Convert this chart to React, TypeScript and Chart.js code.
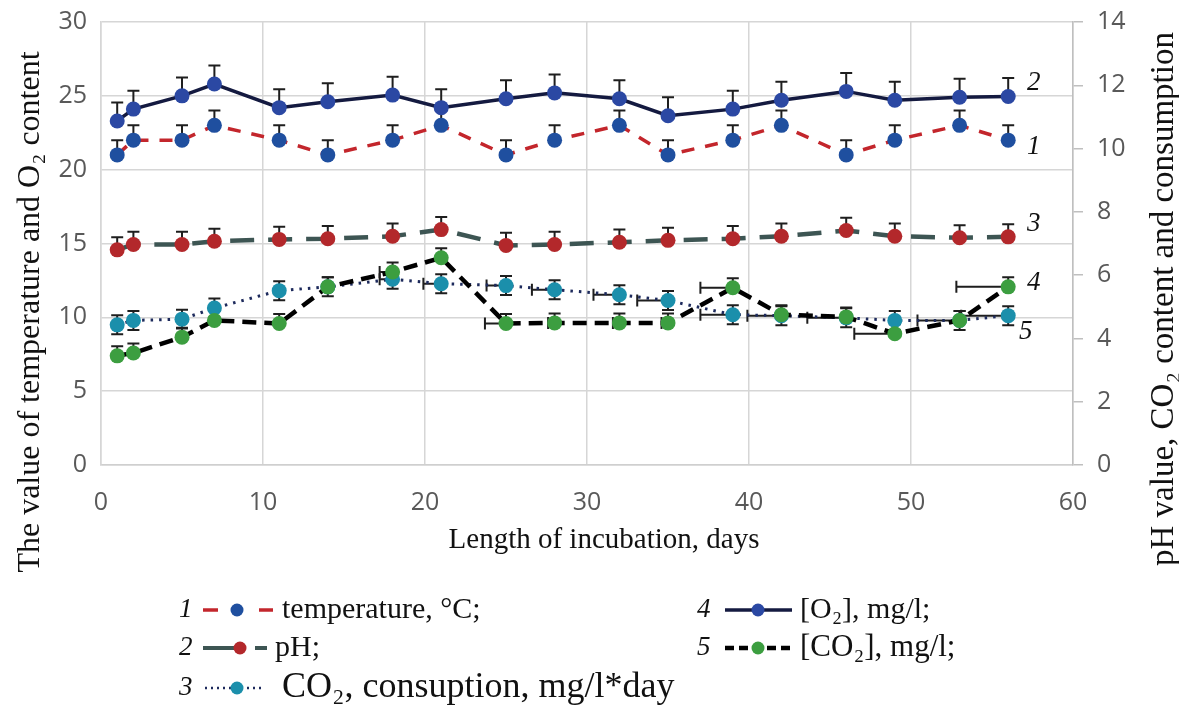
import React, { useEffect, useRef } from "react";
import { Chart, registerables } from "chart.js";
Chart.register(...registerables);

const days = [1, 2, 5, 7, 11, 14, 18, 21, 25, 28, 32, 35, 39, 42, 46, 49, 53, 56];
const temperature = [21, 22, 22, 23, 22, 21, 22, 23, 21, 22, 23, 21, 22, 23, 21, 22, 23, 22];
const oxygen = [23.3, 24.1, 25.0, 25.8, 24.2, 24.6, 25.05, 24.2, 24.8, 25.2, 24.8, 23.65, 24.1, 24.7, 25.3, 24.7, 24.9, 24.95];
const ph = [6.8, 6.97, 6.97, 7.07, 7.13, 7.15, 7.23, 7.44, 6.94, 6.97, 7.04, 7.1, 7.15, 7.23, 7.41, 7.23, 7.18, 7.21];
const co2Consumption = [4.43, 4.57, 4.61, 4.96, 5.51, 5.63, 5.87, 5.73, 5.67, 5.54, 5.38, 5.2, 4.75, 4.72, 4.65, 4.57, 4.57, 4.72];
const co2Content = [3.45, 3.54, 4.04, 4.57, 4.47, 5.63, 6.1, 6.55, 4.47, 4.49, 4.49, 4.49, 5.6, 4.75, 4.68, 4.15, 4.57, 5.63];

const tempErrUp = 1.0;
const oxygenErrUp = 1.25;
const phErrUp = 0.4;
const consErrY = 0.3;
const co2ErrY = 0.3;
const consErrX = [0, 0, 0, 0, 0, 0, 0.8, 1.1, 1.2, 1.4, 1.6, 1.9, 2.0, 2.1, 2.4, 0, 2.6, 2.9];
const co2ErrX = [0, 0, 0, 0, 0, 0, 0.8, 0, 1.3, 0.4, 0.4, 0.4, 2.0, 0, 0, 2.5, 0, 3.2];

const xTicks = [0, 10, 20, 30, 40, 50, 60];
const leftTicks = [0, 5, 10, 15, 20, 25, 30];
const rightTicks = [0, 2, 4, 6, 8, 10, 12, 14];

const SERIF = "'Liberation Serif', 'Times New Roman', serif";
const SANS = "'Open Sans', 'Noto Sans', sans-serif";

const pts = (vals: number[]) => days.map((d, i) => ({ x: d, y: vals[i] }));

const errorBars = {
  id: "errorBars",
  beforeDatasetsDraw(chart: any) {
    const ctx = chart.ctx;
    const xs = chart.scales.x;
    chart.data.datasets.forEach((ds: any) => {
      const ys = chart.scales[ds.yAxisID];
      ctx.save();
      ctx.strokeStyle = "#1e1e1e";
      ctx.lineWidth = 2;
      ctx.setLineDash([]);
      ds.data.forEach((p: any, i: number) => {
        const px = xs.getPixelForValue(p.x);
        const py = ys.getPixelForValue(p.y);
        const up = ds.errUp || 0;
        const down = ds.errDown || 0;
        const xm = ds.errX ? ds.errX[i] : 0;
        ctx.beginPath();
        if (up) {
          const y2 = ys.getPixelForValue(p.y + up);
          ctx.moveTo(px, py); ctx.lineTo(px, y2);
          ctx.moveTo(px - 6, y2); ctx.lineTo(px + 6, y2);
        }
        if (down) {
          const y2 = ys.getPixelForValue(p.y - down);
          ctx.moveTo(px, py); ctx.lineTo(px, y2);
          ctx.moveTo(px - 6, y2); ctx.lineTo(px + 6, y2);
        }
        if (xm) {
          const x2 = xs.getPixelForValue(p.x - xm);
          ctx.moveTo(px, py); ctx.lineTo(x2, py);
          ctx.moveTo(x2, py - 6); ctx.lineTo(x2, py + 6);
        }
        ctx.stroke();
      });
      ctx.restore();
    });
  },
};

function sample(ctx: CanvasRenderingContext2D, segs: number[][], y: number, color: string, width: number, dash: number[], mx: number, mColor: string) {
  ctx.save();
  ctx.strokeStyle = color;
  ctx.lineWidth = width;
  ctx.setLineDash(dash);
  segs.forEach(([a, b]) => {
    ctx.beginPath();
    ctx.moveTo(a, y);
    ctx.lineTo(b, y);
    ctx.stroke();
  });
  ctx.setLineDash([]);
  ctx.fillStyle = mColor;
  ctx.beginPath();
  ctx.arc(mx, y, 6.5, 0, Math.PI * 2);
  ctx.fill();
  ctx.restore();
}

const annotations = {
  id: "annotations",
  afterDraw(chart: any) {
    const ctx = chart.ctx as CanvasRenderingContext2D;
    ctx.save();
    ctx.fillStyle = "#111";
    ctx.textBaseline = "middle";
    ctx.textAlign = "center";
    ctx.font = `32px ${SERIF}`;
    ctx.save();
    ctx.translate(31, 312);
    ctx.rotate(-Math.PI / 2);
    ctx.fillText("The value of temperature and O₂ content", 0, 0);
    ctx.restore();
    ctx.font = `33px ${SERIF}`;
    ctx.save();
    ctx.translate(1164, 299);
    ctx.rotate(-Math.PI / 2);
    ctx.fillText("pH value, CO₂ content and consumption", 0, 0);
    ctx.restore();
    ctx.font = `29px ${SERIF}`;
    ctx.fillText("Length of incubation, days", 604, 540);

    ctx.font = `italic 27px ${SERIF}`;
    ctx.textAlign = "left";
    ctx.fillText("2", 1027, 83);
    ctx.fillText("1", 1027, 147);
    ctx.fillText("3", 1027, 224);
    ctx.fillText("4", 1027, 283);
    ctx.fillText("5", 1019, 332);

    const r1 = 610, r2 = 648, r3 = 688;
    ctx.font = `italic 27px ${SERIF}`;
    ctx.fillText("1", 179, r1);
    ctx.fillText("2", 179, r2);
    ctx.fillText("3", 179, r3);
    ctx.fillText("4", 697, r1);
    ctx.fillText("5", 697, r2);

    sample(ctx, [[203, 218], [259, 273]], r1, "#c3262c", 3.5, [], 237, "#1f4f9f");
    sample(ctx, [[203, 240], [255, 267]], r2, "#3d5553", 4, [], 240, "#b3282b");
    sample(ctx, [[205, 262]], r3, "#1d2a5c", 2.5, [2, 4], 237, "#1b8fab");
    sample(ctx, [[725, 792]], r1, "#141a40", 3.5, [], 758, "#2b48a3");
    sample(ctx, [[725, 792]], r2, "#000", 4.5, [9, 5], 758, "#3c9e40");

    ctx.fillStyle = "#111";
    ctx.font = `30px ${SERIF}`;
    ctx.fillText("temperature, °C;", 282, r1);
    ctx.fillText("pH;", 275, r2);
    ctx.fillText("[O₂], mg/l;", 800, r1);
    ctx.font = `31px ${SERIF}`;
    ctx.fillText("[CO₂], mg/l;", 800, r2);
    ctx.font = `36px ${SERIF}`;
    ctx.fillText("CO₂, consuption, mg/l*day", 282, r3);
    ctx.restore();
  },
};

const noPad = (w: number) => (s: any) => {
  s.width = w;
  s.paddingTop = 0;
  s.paddingBottom = 0;
};

export default function App() {
  const ref = useRef<HTMLCanvasElement>(null);
  useEffect(() => {
    document.body.style.margin = "0";
    const chart = new Chart(ref.current!, {
      type: "line",
      data: {
        datasets: [
          {
            label: "temperature, °C",
            data: pts(temperature),
            yAxisID: "y",
            borderColor: "#c3262c",
            borderWidth: 3.5,
            borderDash: [13, 11],
            pointBackgroundColor: "#1f4f9f",
            pointBorderWidth: 0,
            pointRadius: 7.5,
            errUp: tempErrUp,
          } as any,
          {
            label: "[O2], mg/l",
            data: pts(oxygen),
            yAxisID: "y",
            borderColor: "#141a40",
            borderWidth: 3.5,
            pointBackgroundColor: "#2b48a3",
            pointBorderWidth: 0,
            pointRadius: 7.5,
            errUp: oxygenErrUp,
          } as any,
          {
            label: "pH",
            data: pts(ph),
            yAxisID: "y1",
            borderColor: "#3d5553",
            borderWidth: 4.5,
            borderDash: [24, 14],
            pointBackgroundColor: "#b3282b",
            pointBorderWidth: 0,
            pointRadius: 7.5,
            errUp: phErrUp,
          } as any,
          {
            label: "[CO2], mg/l",
            data: pts(co2Content),
            yAxisID: "y1",
            borderColor: "#000",
            borderWidth: 4.5,
            borderDash: [14, 8],
            pointBackgroundColor: "#3c9e40",
            pointBorderWidth: 0,
            pointRadius: 7.5,
            errUp: co2ErrY,
            errX: co2ErrX,
          } as any,
          {
            label: "CO2 consuption, mg/l*day",
            data: pts(co2Consumption),
            yAxisID: "y1",
            borderColor: "#1d2a5c",
            borderWidth: 3,
            borderDash: [2.5, 6],
            pointBackgroundColor: "#1b8fab",
            pointBorderWidth: 0,
            pointRadius: 7.5,
            errUp: consErrY,
            errDown: consErrY,
            errX: consErrX,
          } as any,
        ],
      },
      options: {
        responsive: false,
        animation: false,
        layout: { padding: { top: 22, bottom: 181, left: 0, right: 0 } },
        plugins: { legend: { display: false }, tooltip: { enabled: false } },
        scales: {
          x: {
            type: "linear",
            min: 0,
            max: 60,
            afterBuildTicks: (s: any) => { s.ticks = xTicks.map((v) => ({ value: v })); },
            afterFit: (s: any) => { s.height = 60; s.paddingLeft = 0; s.paddingRight = 0; },
            grid: { color: "#d6d6d6", lineWidth: 1.5, drawTicks: false },
            border: { display: true, color: "#cfcfcf", width: 1.5 },
            ticks: { color: "#595959", font: { family: SANS, size: 25 }, padding: 23, maxRotation: 0 },
          },
          y: {
            type: "linear",
            position: "left",
            min: 0,
            max: 30,
            afterBuildTicks: (s: any) => { s.ticks = leftTicks.map((v) => ({ value: v })); },
            afterFit: noPad(101),
            grid: { color: "#d6d6d6", lineWidth: 1.5, drawTicks: false },
            border: { display: true, color: "#d6d6d6", width: 1.5 },
            ticks: { color: "#595959", font: { family: SANS, size: 25 }, padding: 14 },
          },
          y1: {
            type: "linear",
            position: "right",
            min: 0,
            max: 14,
            afterBuildTicks: (s: any) => { s.ticks = rightTicks.map((v) => ({ value: v })); },
            afterFit: noPad(106),
            grid: { drawOnChartArea: false, drawTicks: true, tickLength: 10, color: "#bfbfbf", lineWidth: 1.5 },
            border: { display: true, color: "#bfbfbf", width: 1.5 },
            ticks: { color: "#595959", font: { family: SANS, size: 25 }, padding: 14 },
          },
        },
      },
      plugins: [errorBars, annotations],
    } as any);
    return () => chart.destroy();
  }, []);
  return (
    <div style={{ width: 1179, height: 706, background: "#fff" }}>
      <canvas ref={ref} width={1179} height={706} />
    </div>
  );
}
